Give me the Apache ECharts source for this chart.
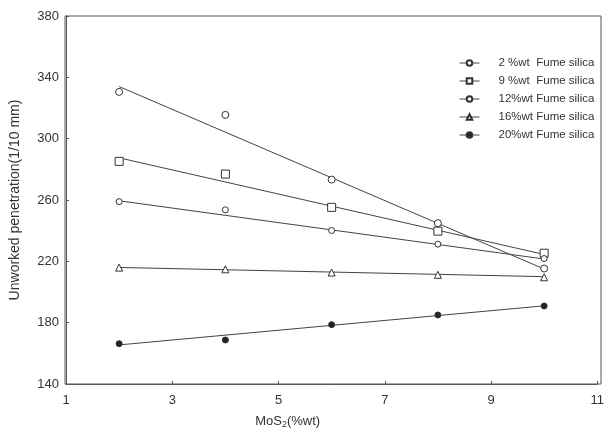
<!DOCTYPE html>
<html>
<head>
<meta charset="utf-8">
<script src="https://cdn.jsdelivr.net/npm/echarts@6/dist/echarts.min.js"></script>
<style>html,body{margin:0;padding:0;background:#fff;}#c{width:607px;height:439px;}</style>
</head>
<body>
<div id="c"></div>
<script>
// MoS2 content (%wt)
var xValues = [2, 4, 6, 8, 10];
var seriesNames = ['2 %wt  Fume silica', '9 %wt  Fume silica', '12%wt Fume silica', '16%wt Fume silica', '20%wt Fume silica'];
// measured points
var fs2  = [330.5, 315.5, 273.3, 244.9, 215.3];
var fs9  = [285.2, 276.9, 255.2, 239.7, 225.3];
var fs12 = [258.9, 253.6, 240.1, 231.2, 221.8];
var fs16 = [215.9, 214.8, 212.7, 211.2, 209.6];
var fs20 = [166.3, 168.7, 178.7, 185.0, 190.9];
// fitted straight lines, read at x = 2 and x = 10
var fitX = [2, 10];
var fit2  = [334, 215];
var fit9  = [287.5, 224.5];
var fit12 = [259.5, 221.5];
var fit16 = [216, 210];
var fit20 = [165.5, 191];
var xTicks = [1, 3, 5, 7, 9, 11];
var yTicks = [140, 180, 220, 260, 300, 340, 380];

var pointSets = [fs2, fs9, fs12, fs16, fs20];
var fitSets = [fit2, fit9, fit12, fit16, fit20];
var symbols = ['circle', 'rect', 'circle', 'triangle', 'circle'];
var sizes = [7, 8, 6, 7, 6];
var fills = ['#fff', '#fff', '#fff', '#fff', '#222'];
var ink = '#333';

function pairs(xs, ys) { return xs.map(function (x, i) { return [x, ys[i]]; }); }

var series = [];
fitSets.forEach(function (f, i) {
  series.push({
    name: 'fit' + i, type: 'line', data: pairs(fitX, f), showSymbol: false, silent: true,
    lineStyle: { color: '#444', width: 1 }, itemStyle: { color: '#444' }, z: 2
  });
});
pointSets.forEach(function (p, i) {
  series.push({
    name: seriesNames[i], type: 'line', data: pairs(xValues, p),
    symbol: symbols[i], symbolSize: sizes[i], showSymbol: true,
    lineStyle: { width: 0, opacity: 0 },
    itemStyle: { color: fills[i], borderColor: ink, borderWidth: 1 }, z: 3
  });
});

var chart = echarts.init(document.getElementById('c'), null, { renderer: 'canvas' });
chart.setOption({
  backgroundColor: '#fff',
  animation: false,
  textStyle: { fontFamily: 'Liberation Sans, Arial, sans-serif' },
  grid: { left: 65, right: 6, top: 16, bottom: 55 },
  legend: {
    data: seriesNames, orient: 'vertical', left: 459, top: 56,
    itemWidth: 20, itemHeight: 7, itemGap: 4, padding: 0,
    textStyle: { fontSize: 11.5, lineHeight: 14, color: '#333', padding: [0, 0, 0, 14], fontFamily: 'Liberation Sans, Arial, sans-serif' },
    lineStyle: { width: 1, color: '#444', opacity: 1 }
  },
  xAxis: {
    type: 'value', min: 1, max: 11, interval: 2,
    name: '{a|MoS}{s|2}{a|(%wt)}', nameLocation: 'middle', nameGap: 30,
    nameTextStyle: { padding: [0, 88, 0, 0], rich: { a: { fontSize: 13, color: '#333' }, s: { fontSize: 9, color: '#333', verticalAlign: 'bottom', padding: [6, 0, 0, 0] } } },
    axisLine: { show: true, onZero: false, lineStyle: { color: '#555', width: 1 } },
    axisTick: { show: true, inside: true, length: 3, lineStyle: { color: '#555' } },
    axisLabel: { fontSize: 13, color: '#333', margin: 10 },
    splitLine: { show: false }
  },
  yAxis: {
    type: 'value', min: 140, max: 380, interval: 40,
    name: 'Unworked penetration(1/10 mm)', nameLocation: 'middle', nameGap: 44,
    nameTextStyle: { fontSize: 14, color: '#333' },
    axisLine: { show: true, onZero: false, lineStyle: { color: '#555', width: 1 } },
    axisTick: { show: true, inside: true, length: 3, lineStyle: { color: '#555' } },
    axisLabel: { fontSize: 13, color: '#333', margin: 7 },
    splitLine: { show: false }
  },
  graphic: [{
    type: 'rect', shape: { x: 65, y: 16, width: 536, height: 368 },
    style: { fill: 'none', stroke: '#555', lineWidth: 1 }, silent: true, z: 0
  }],
  series: series
});
</script>
</body>
</html>
